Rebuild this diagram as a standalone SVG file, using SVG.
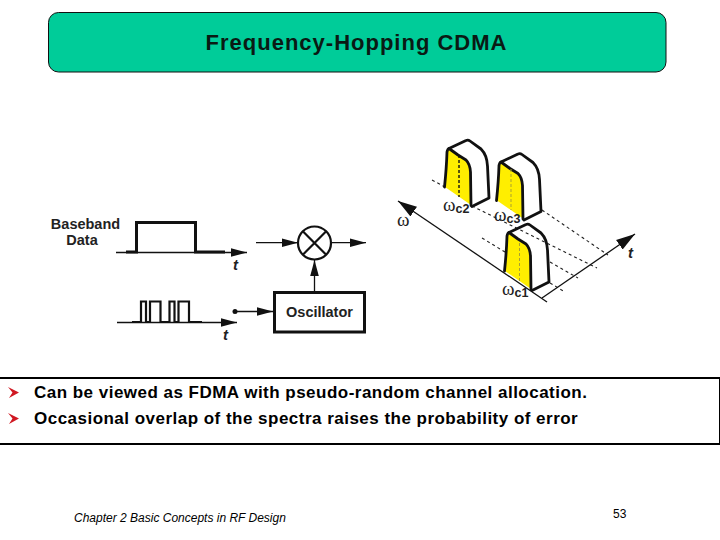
<svg xmlns="http://www.w3.org/2000/svg" width="720" height="540" viewBox="0 0 720 540">
<style>
text{font-family:"Liberation Sans",Arial,sans-serif;fill:#000}
.d{font-weight:bold;font-size:14.500px;fill:#222}
.t{font-weight:bold;font-style:italic;font-size:15px;fill:#222}
.w{font-family:"Liberation Serif",serif;font-size:19px;fill:#222}
.s{font-family:"Liberation Sans",sans-serif;font-size:12.500px;font-weight:bold;fill:#222}
.l{font-weight:bold;font-size:17px;letter-spacing:.48px}
.thin{fill:none;stroke:#111;stroke-width:1.300}
.thick{fill:none;stroke:#111;stroke-width:3;stroke-linejoin:miter}
.dash{fill:none;stroke:#222;stroke-width:1.100;stroke-dasharray:3 3}
.pulse{fill:none;stroke:#111;stroke-width:2.800;stroke-linejoin:round;stroke-linecap:round}
</style>
<defs>
<marker id="a" markerUnits="userSpaceOnUse" markerWidth="17" markerHeight="11" refX="16" refY="5.500" orient="auto"><path d="M0,1.200 L16,5.500 L0,9.800 Z" fill="#111"/></marker>
<marker id="b" markerUnits="userSpaceOnUse" markerWidth="20" markerHeight="14" refX="19" refY="7" orient="auto"><path d="M0,1.200 L19,7 L0,12.800 Z" fill="#111"/></marker>
<g id="pulse">
<path d="M445,187 Q447,168 447.500,148 L458,155 L466,160 Q470,164 470.500,172 L471,205 Z" fill="#ffee00"/>
<path class="pulse" d="M444.500,187 Q446.500,168 447,152 Q447.500,149 449,148.500 L458,155 L466,160 Q470,164 470.500,172 L471,205.500"/>
<path class="pulse" d="M449,148.500 L466,140.500 Q468,139.500 470,141 L481,149 Q487,155 487.500,166 L489,198 L472,206.500"/>
</g>
<path id="bul" d="M0,0 L11,5.500 L1,11 L4.500,5.500 Z" fill="#d01822"/>
</defs>

<g id="title">
<rect x="48.500" y="12.500" width="617.500" height="59.500" rx="10" fill="#00cc99" stroke="#111" stroke-width="1"/>
<text x="356.500" y="50" text-anchor="middle" font-size="22" font-weight="bold" letter-spacing="1" style="fill:#0a1a14">Frequency-Hopping CDMA</text>
</g>

<g id="hopping">
<path class="dash" d="M432,180 L445,187 M472,206 L597,268 M542,210 L608,255 M482,238 L505,252 M550,262 L578,278 M550,283 L565,292"/>
<path class="thin" d="M547,302 L398,201" marker-end="url(#b)"/>
<path class="thin" d="M542,298 L635,234" marker-end="url(#b)"/>
<use href="#pulse"/>
<path d="M459,155 V197" stroke="#111" stroke-width="1.400" stroke-dasharray="3 2" fill="none"/>
<use href="#pulse" x="52" y="13.500"/>
<path d="M511,169 V210" stroke="#a9a030" stroke-width="1" stroke-dasharray="3 2" fill="none"/>
<use href="#pulse" x="60" y="84"/>
<path d="M519.500,243 V282" stroke="#a9a030" stroke-width="1" stroke-dasharray="3 2" fill="none"/>
<text class="w" x="397" y="226">ω</text>
<text class="w" x="443" y="211">ω<tspan class="s" dy="2">c2</tspan></text>
<text class="w" x="494" y="221">ω<tspan class="s" dy="2">c3</tspan></text>
<text class="w" x="502" y="295">ω<tspan class="s" dy="2">c1</tspan></text>
<text class="t" x="628" y="258">t</text>
</g>

<g id="baseband">
<text class="d" x="85.500" y="229" text-anchor="middle">Baseband</text>
<text class="d" x="82" y="245" text-anchor="middle">Data</text>
<path class="thin" d="M116,252.500 H247" marker-end="url(#a)"/>
<path class="thick" d="M126,252 H136.500 V222.500 H195.500 V252 H225"/>
<text class="t" x="233" y="270">t</text>
</g>

<g id="code">
<path class="thin" d="M117,322.500 H237" marker-end="url(#a)"/>
<path fill="none" stroke="#111" stroke-width="2.200" d="M132,322 H141 V301.500 H146 V322 H150 V301.500 H160.500 V322 H169.500 V301.500 H174.500 V322 H178.500 V301.500 H189 V322 H202"/>
<circle cx="235" cy="311.500" r="2.500" fill="#111"/>
<text class="t" x="223" y="340">t</text>
</g>

<g id="mixer">
<circle cx="314.500" cy="243" r="16.500" fill="none" stroke="#111" stroke-width="2.200"/>
<path d="M302.800,231.300 L326.200,254.700 M326.200,231.300 L302.800,254.700" stroke="#111" stroke-width="2.200"/>
</g>

<g id="oscillator">
<rect x="274.500" y="292.500" width="90" height="39.500" fill="#fff" stroke="#111" stroke-width="3"/>
<text class="d" x="319.500" y="317" text-anchor="middle">Oscillator</text>
</g>

<g id="connectors">
<path class="thin" d="M256,242.700 H298" marker-end="url(#a)"/>
<path class="thin" d="M331,242.700 H366" marker-end="url(#a)"/>
<path class="thin" d="M314.500,291 V260" marker-end="url(#a)"/>
<path class="thin" d="M235,311.500 H273" marker-end="url(#a)"/>
</g>

<g id="bullets">
<rect x="-1" y="378" width="721" height="66" fill="#fff" stroke="#000" stroke-width="2"/>
<use href="#bul" x="8" y="387"/>
<use href="#bul" x="8" y="413"/>
<text class="l" x="34" y="398">Can be viewed as FDMA with pseudo-random channel allocation.</text>
<text class="l" x="34" y="424">Occasional overlap of the spectra raises the probability of error</text>
</g>

<g id="footer">
<text x="74" y="522" font-size="12" font-style="italic">Chapter 2 Basic Concepts in RF Design</text>
<text x="613" y="518" font-size="12">53</text>
</g>
</svg>
